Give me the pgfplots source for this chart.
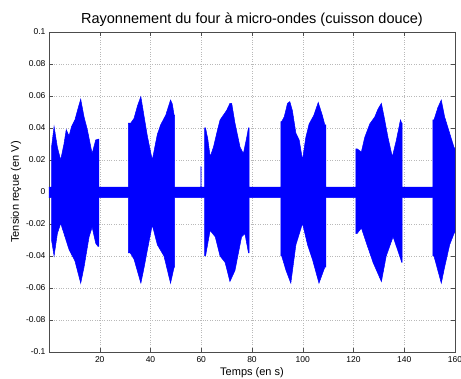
\documentclass[border=0pt]{standalone}
\usepackage{pgfplots}
\pgfplotsset{compat=1.18}
\usepgfplotslibrary{fillbetween}
\usepackage{pgfplotstable}
\usepackage{fontspec}
\setmainfont{Liberation Sans}

% upper envelope of the received signal (time in s, voltage in V)
\pgfplotstableread{
x y
0 0.003
1.0 0.003
1.0 0.028
2.0 0.041
3.3 0.028
4.6 0.020
5.9 0.030
6.8 0.039
7.9 0.035
8.9 0.041
10.2 0.045
11.4 0.052
12.5 0.058
13.8 0.047
15.1 0.039
17.0 0.024
18.4 0.0325
19.3 0.033
19.65 0.033
19.65 0.003
31.3 0.003
31.3 0.043
32.2 0.043
33.5 0.046
34.9 0.054
36.2 0.0596
37.5 0.047
38.8 0.0346
40.7 0.020
42.7 0.036
44.0 0.042
46.0 0.048
47.9 0.0575
48.6 0.055
49.3 0.048
49.5 0.048
49.5 0.003
59.8 0.003
59.9 0.016
60.0 0.003
61.3 0.003
61.3 0.040
61.7 0.040
62.6 0.033
63.5 0.022
64.8 0.028
66.1 0.0367
67.4 0.045
68.7 0.048
70.0 0.051
71.3 0.0554
72.0 0.0554
73.3 0.043
75.3 0.028
76.6 0.024
77.9 0.034
78.6 0.040
78.9 0.040
78.9 0.003
91.4 0.003
91.4 0.044
91.7 0.044
92.7 0.047
94.0 0.0554
94.9 0.0565
95.9 0.051
97.3 0.0367
98.6 0.0325
99.9 0.020
101.2 0.034
102.5 0.0425
104.4 0.048
106.1 0.056
107.7 0.048
108.7 0.042
109.1 0.042
109.1 0.003
120.9 0.003
120.9 0.027
121.4 0.027
123.1 0.025
124.4 0.034
126.4 0.0425
128.4 0.047
129.7 0.052
131.0 0.0554
132.3 0.045
133.6 0.034
135.3 0.022
136.9 0.0325
138.5 0.045
139.0 0.043
139.2 0.043
139.2 0.003
151.3 0.003
151.3 0.045
151.7 0.045
153.3 0.053
154.6 0.0575
155.9 0.047
157.9 0.0367
159.6 0.028
160.0 0.027
}\upenv

% lower envelope
\pgfplotstableread{
x y
0 -0.0035
1.0 -0.0035
1.0 -0.030
2.0 -0.040
3.3 -0.026
4.6 -0.0196
5.9 -0.026
7.9 -0.036
10.2 -0.043
12.5 -0.057
13.8 -0.047
15.8 -0.028
17.0 -0.022
18.4 -0.032
19.3 -0.034
19.65 -0.034
19.65 -0.0035
31.3 -0.0035
31.3 -0.038
32.0 -0.038
33.5 -0.042
36.2 -0.057
37.5 -0.047
38.8 -0.036
40.7 -0.0206
42.7 -0.033
45.3 -0.040
47.9 -0.057
49.3 -0.047
49.5 -0.047
49.5 -0.0035
61.3 -0.0035
61.3 -0.040
61.7 -0.040
63.5 -0.024
65.5 -0.028
67.4 -0.040
69.4 -0.044
71.3 -0.056
73.3 -0.049
75.9 -0.028
77.2 -0.026
78.6 -0.038
78.9 -0.038
78.9 -0.0035
91.4 -0.0035
91.4 -0.040
91.7 -0.040
93.4 -0.049
95.3 -0.057
97.3 -0.033
99.9 -0.0196
101.9 -0.033
103.8 -0.042
106.4 -0.057
108.7 -0.047
109.1 -0.047
109.1 -0.0035
120.9 -0.0035
120.9 -0.026
121.4 -0.026
123.1 -0.0225
125.1 -0.032
127.7 -0.044
131.0 -0.056
132.9 -0.040
135.6 -0.028
138.2 -0.040
139.0 -0.044
139.2 -0.044
139.2 -0.0035
151.3 -0.0035
151.3 -0.040
151.7 -0.040
154.6 -0.057
155.9 -0.047
157.9 -0.033
159.6 -0.026
160.0 -0.025
}\lowenv

\begin{document}
\begin{tikzpicture}
\begin{axis}[
  name=ax,
  set layers,
  scale only axis,
  width=406pt, height=320pt,
  xmin=0, xmax=160, ymin=-0.1, ymax=0.1,
  xtick={20,40,60,80,100,120,140,160},
  ytick={-0.1,-0.08,-0.06,-0.04,-0.02,0,0.02,0.04,0.06,0.08,0.1},
  tick align=inside, tick pos=both, major tick length=4pt,
  grid=major,
  major grid style={dotted, gray!55, line width=0.4pt},
  axis line style={gray!60!black},
  tick style={gray!60!black},
  ticklabel style={font=\fontsize{8.5}{10}\selectfont},
  xticklabel style={yshift=-1pt},
  title={Rayonnement du four à micro-ondes (cuisson douce)},
  title style={font=\fontsize{14.5}{16}\selectfont, yshift=-4pt},
  xlabel={Temps (en s)},
  ylabel={Tension reçue (en V)},
  label style={font=\fontsize{11}{12}\selectfont},
  xlabel style={yshift=2pt},
  ylabel style={yshift=-2pt},
  /pgf/number format/.cd, fixed, precision=2, assume math mode=true,
]
\addplot[name path=up, blue, line width=0.5pt] table {\upenv};
\addplot[name path=lo, blue, line width=0.5pt] table {\lowenv};
\addplot[blue] fill between[of=up and lo];
\end{axis}
\pgfresetboundingbox
\path ([shift={(-49pt,-27pt)}]ax.south west) rectangle ([shift={(6pt,32pt)}]ax.north east);
\end{tikzpicture}
\end{document}
